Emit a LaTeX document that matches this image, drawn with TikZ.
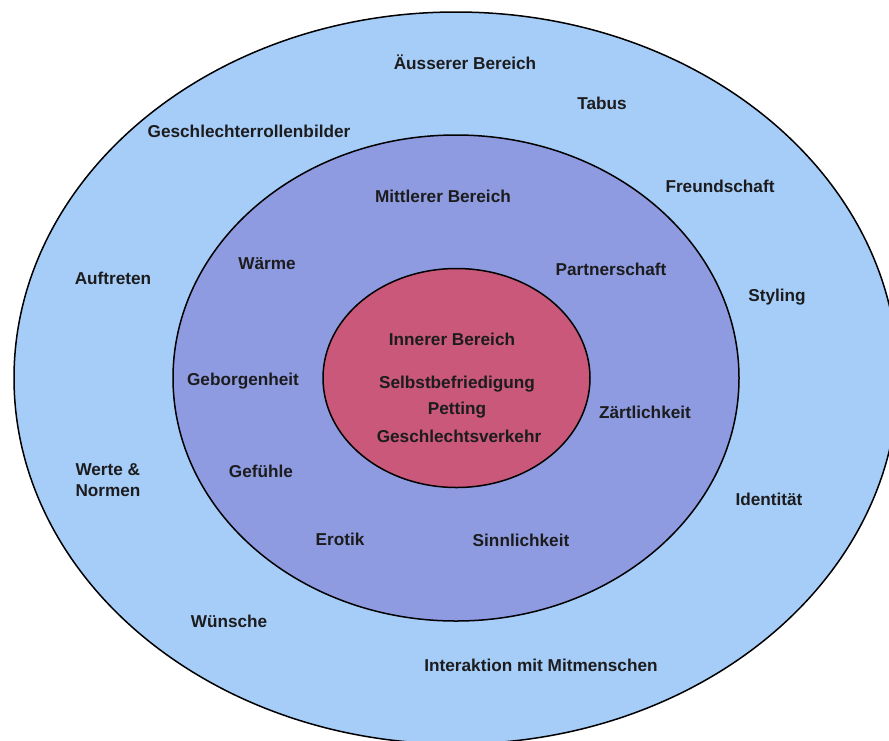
\documentclass[tikz,border=0pt]{standalone}
\usepackage{fontspec}
\setmainfont{Liberation Sans}
\usetikzlibrary{shapes.geometric}
\definecolor{outerblue}{RGB}{166,205,248}
\definecolor{midblue}{RGB}{142,155,224}
\definecolor{innerred}{RGB}{201,88,122}
\definecolor{txt}{RGB}{28,28,30}
\tikzset{
  ring/.style={ellipse, draw=black, line width=1.5pt, inner sep=0pt},
  lbl/.style={text=txt, font=\fontsize{17.2}{21}\selectfont\bfseries, inner sep=1pt},
}
\begin{document}
\begin{tikzpicture}[x=1pt,y=-1pt]
\useasboundingbox (0,0) rectangle (889,740);
\fill[white] (0,0) rectangle (889,740);
\node[ring, fill=outerblue, minimum width=884pt, minimum height=732pt] (outer) at (456,378) {};
\node[ring, fill=midblue, minimum width=566pt, minimum height=486pt] (middle) at (456,378) {};
\node[ring, fill=innerred, minimum width=267pt, minimum height=219pt] (inner) at (456.5,378) {};

\node[lbl] (aeusserer) at (465,62) {Äusserer Bereich};
\node[lbl] (tabus) at (602,103) {Tabus};
\node[lbl] (rollen) at (249,131) {Geschlechterrollenbilder};
\node[lbl] (freund) at (720,186) {Freundschaft};
\node[lbl] (mittlerer) at (443,196) {Mittlerer Bereich};
\node[lbl] (waerme) at (267,264) {Wärme};
\node[lbl] (partner) at (611,269) {Partnerschaft};
\node[lbl] (auftreten) at (113,278) {Auftreten};
\node[lbl] (styling) at (777,297) {Styling};
\node[lbl] (innerer) at (452,339) {Innerer Bereich};
\node[lbl] (geborgen) at (243,381) {Geborgenheit};
\node[lbl] (selbst) at (457,384) {Selbstbefriedigung};
\node[lbl] (petting) at (457,410) {Petting};
\node[lbl] (zaert) at (645,412) {Zärtlichkeit};
\node[lbl] (verkehr) at (459,436) {Geschlechtsverkehr};
\node[lbl, align=left] (werte) at (108,480) {Werte \&\\Normen};
\node[lbl] (gefuehle) at (261,471) {Gefühle};
\node[lbl] (ident) at (769,499) {Identität};
\node[lbl] (erotik) at (340,539) {Erotik};
\node[lbl] (sinn) at (521,540) {Sinnlichkeit};
\node[lbl] (wuensche) at (229,621) {Wünsche};
\node[lbl] (interaktion) at (541,665) {Interaktion mit Mitmenschen};
\end{tikzpicture}
\end{document}
